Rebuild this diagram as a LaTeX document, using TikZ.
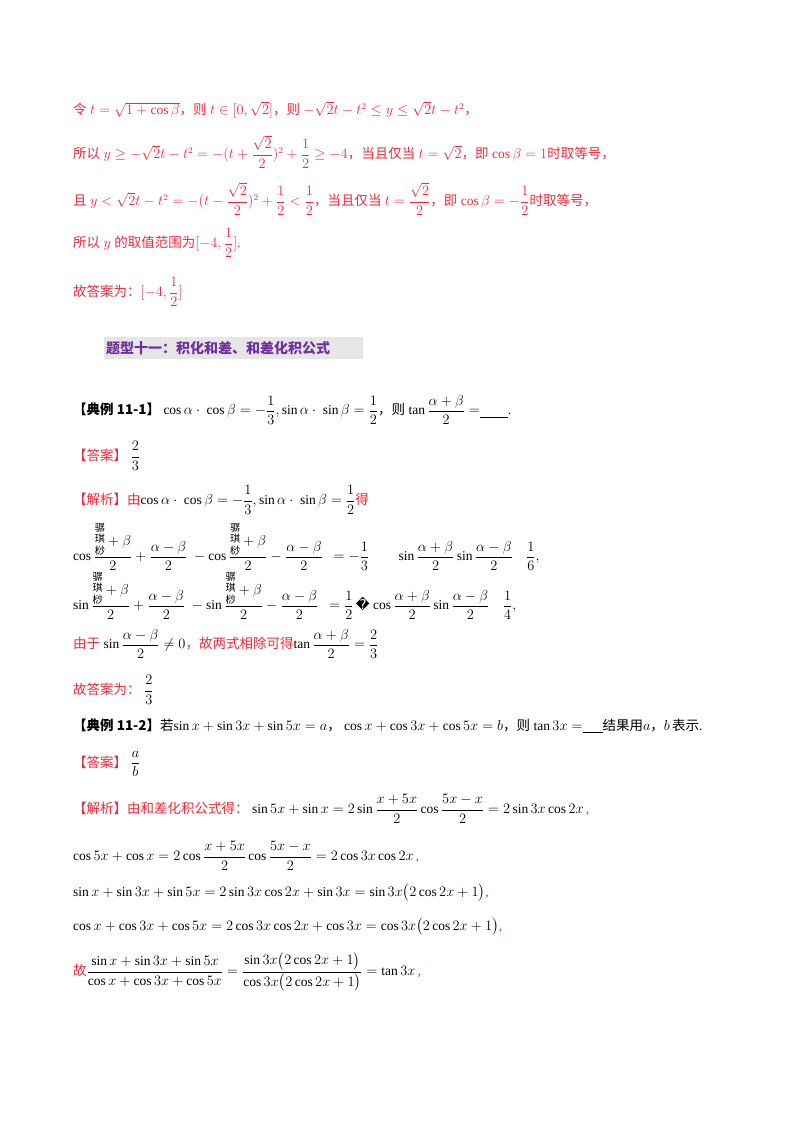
\documentclass[tikz,border=0pt]{standalone}
\usepackage{fontspec}
\setmainfont{Liberation Serif}
\newfontfamily\cjk{Noto Sans CJK SC}
\newfontfamily\dejavu{DejaVu Sans}
\newcommand\zh[1]{{\cjk #1}}
\definecolor{rd}{HTML}{EE2A3C}
\definecolor{pur}{HTML}{7030A0}
\definecolor{hbg}{HTML}{E6E6E6}
\newcommand\garb{\text{\raisebox{-1.4ex}{\scalebox{0.75}{\cjk\shortstack{骣\\琪\\桫}}}}}
\usepackage{amsmath}
\tikzset{ln/.style={anchor=west,inner sep=0pt,font=\fontsize{13.5}{16}\selectfont},
 red/.style={ln,text=rd}}
\begin{document}
\begin{tikzpicture}[x=1pt,y=-1pt]
\useasboundingbox (0,0) rectangle (800,1132);
\fill[white] (0,0) rectangle (800,1132);
\node[red] (l1) at (73,110) {\zh{令} $t=\sqrt{1+\cos\beta}$\zh{，则} $t\in[0,\sqrt2]$\zh{，则} $-\sqrt2t-t^2\le y\le\sqrt2t-t^2$\zh{，}};
\node[red] (l2) at (73,152) {\zh{所以} $y\ge-\sqrt2t-t^2=-(t+\dfrac{\sqrt2}{2})^2+\dfrac12\ge-4$\zh{，当且仅当} $t=\sqrt2$\zh{，即} $\cos\beta=1$\zh{时取等号，}};
\node[red] (l3) at (73,199) {\zh{且} $y<\sqrt2t-t^2=-(t-\dfrac{\sqrt2}{2})^2+\dfrac12<\dfrac12$\zh{，当且仅当} $t=\dfrac{\sqrt2}{2}$\zh{，即} $\cos\beta=-\dfrac12$\zh{时取等号，}};
\node[red] (l4) at (73,243) {\zh{所以} $y$ \zh{的取值范围为}$[-4,\dfrac12]$.};
\node[red] (l5) at (73,292) {\zh{故答案为：}$[-4,\dfrac12]$};
\fill[hbg] (104,337) rectangle (363,359);
\node[ln,text=pur,font=\fontsize{14}{16}\cjk\bfseries] (h) at (106,348) {题型十一：积化和差、和差化积公式};
\node[ln] (l7) at (73,410) {\zh{\textbf{【典例 11-1】}} $\cos\alpha\cdot\ \cos\beta=-\dfrac13,\sin\alpha\cdot\ \sin\beta=\dfrac12$\zh{，则} $\tan\dfrac{\alpha+\beta}{2}=$\underline{\hspace{28pt}}.};
\node[red] (l8) at (73,456) {\zh{【答案】} \textcolor{black}{$\dfrac23$}};
\node[red] (l9) at (73,500) {\zh{【解析】由}\textcolor{black}{$\cos\alpha\cdot\ \cos\beta=-\dfrac13,\sin\alpha\cdot\ \sin\beta=\dfrac12$}\zh{得}};
\node[ln] (l10) at (73,547) {$\cos\dfrac{\garb+\beta}{2}+\dfrac{\alpha-\beta}{2}\ -\cos\dfrac{\garb+\beta}{2}-\dfrac{\alpha-\beta}{2}\ \ =-\dfrac13\qquad\sin\dfrac{\alpha+\beta}{2}\sin\dfrac{\alpha-\beta}{2}\quad\dfrac16,$};
\node[ln] (l11) at (73,596) {$\sin\dfrac{\garb+\beta}{2}+\dfrac{\alpha-\beta}{2}\ -\sin\dfrac{\garb+\beta}{2}-\dfrac{\alpha-\beta}{2}\ \ =\dfrac12$\,{\dejavu �}\ $\cos\dfrac{\alpha+\beta}{2}\sin\dfrac{\alpha-\beta}{2}\quad\dfrac14,$};
\node[red] (l12) at (73,644) {\zh{由于} \textcolor{black}{$\sin\dfrac{\alpha-\beta}{2}\ne0$}\zh{，故两式相除可得}\textcolor{black}{$\tan\dfrac{\alpha+\beta}{2}=\dfrac23$}};
\node[red] (l13) at (73,690) {\zh{故答案为：} \textcolor{black}{$\dfrac23$}};
\node[ln] (l14) at (73,726) {\zh{\textbf{【典例 11-2】}若}$\sin x+\sin3x+\sin5x=a$\zh{，} $\cos x+\cos3x+\cos5x=b$\zh{，则} $\tan3x=$\underline{\hspace{20pt}}\zh{结果用}$a$\zh{，}$b$\,\zh{表示}.};
\node[red] (l15) at (73,764) {\zh{【答案】} \textcolor{black}{$\dfrac ab$}};
\node[red] (l16) at (73,809) {\zh{【解析】由和差化积公式得：} \textcolor{black}{$\sin5x+\sin x=2\sin\dfrac{x+5x}{2}\cos\dfrac{5x-x}{2}=2\sin3x\cos2x$}\,,};
\node[red] (l17) at (73,856) {\textcolor{black}{$\cos5x+\cos x=2\cos\dfrac{x+5x}{2}\cos\dfrac{5x-x}{2}=2\cos3x\cos2x$}\,,};
\node[red] (l18) at (73,893) {\textcolor{black}{$\sin x+\sin3x+\sin5x=2\sin3x\cos2x+\sin3x=\sin3x\bigl(2\cos2x+1\bigr)$},};
\node[red] (l19) at (73,927) {\textcolor{black}{$\cos x+\cos3x+\cos5x=2\cos3x\cos2x+\cos3x=\cos3x\bigl(2\cos2x+1\bigr)$},};
\node[red] (l20) at (73,972) {\zh{故}\textcolor{black}{$\dfrac{\sin x+\sin3x+\sin5x}{\cos x+\cos3x+\cos5x}=\dfrac{\sin3x\bigl(2\cos2x+1\bigr)}{\cos3x\bigl(2\cos2x+1\bigr)}=\tan3x$}\,,};
\end{tikzpicture}
\end{document}
